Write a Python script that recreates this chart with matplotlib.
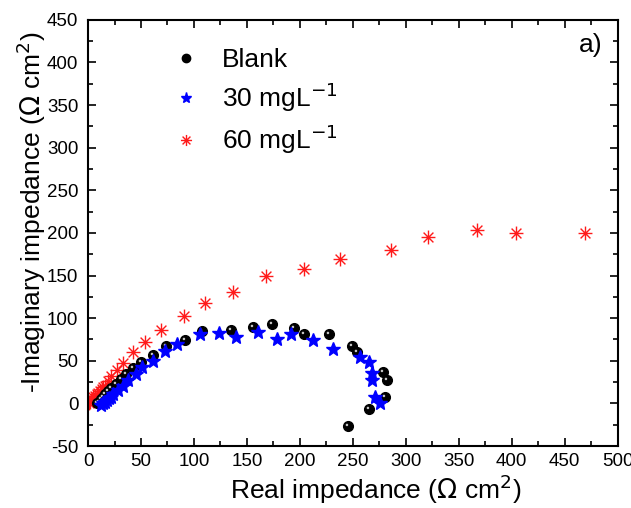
import numpy as np
import matplotlib
matplotlib.use('Agg')
import matplotlib.pyplot as plt
from matplotlib.path import Path
from matplotlib.ticker import MultipleLocator

plt.rcParams['font.family'] = ['Liberation Sans', 'DejaVu Sans']
plt.rcParams['axes.unicode_minus'] = False

# Nyquist data (Z' , -Z'') in ohm cm2
blank_re = [8, 10, 12, 14, 16, 19, 22, 26, 31, 36, 42, 50, 61, 74, 92, 108,
            135, 156, 174, 194, 204, 227, 249, 254, 278, 282, 280, 265, 245]
blank_im = [0, 2, 5, 8, 11, 14, 18, 23, 29, 34, 42, 49, 57, 67, 74, 85,
            86, 90, 93, 88, 82, 81, 67, 60, 37, 27, 8, -6, -27]

c30_re = [12, 14, 16, 18, 20, 22, 24, 28, 33, 38, 45, 51, 61, 73, 84, 106,
          124, 140, 160, 178, 192, 212, 231, 257, 265, 268, 268, 271, 276]
c30_im = [-2, 0, 2, 4, 6, 8, 11, 16, 21, 28, 35, 43, 50, 61, 70, 81,
          83, 78, 84, 75, 82, 74, 64, 55, 48, 36, 27, 8, 0]

c60_re = [1, 2, 3.5, 5, 6.6, 8, 9.7, 11, 12.9, 14.5, 16, 19, 22, 27, 33, 42,
          54, 69, 91, 110, 137, 168, 204, 238, 286, 321, 367, 404, 469]
c60_im = [0, 2, 5, 7, 9, 11, 12.5, 14, 16.4, 19, 21, 26, 32, 39, 47, 60,
          72, 86, 102, 118, 131, 149, 158, 169, 180, 195, 203, 200, 200]

labels = ['Blank', '30 mgL$^{-1}$', '60 mgL$^{-1}$']

# asterisk marker: four strokes through the centre
ang = np.deg2rad([0, 45, 90, 135])
verts, codes = [], []
for a in ang:
    verts += [(np.cos(a), np.sin(a)), (-np.cos(a), -np.sin(a))]
    codes += [Path.MOVETO, Path.LINETO]
asterisk = Path(verts, codes)

# highlight spot for the "sphere" look (extra moveto points fix the scale)
spot = Path.circle((-0.32, 0.32), 0.26)
spot = Path(np.vstack([spot.vertices, [[-1, -1], [1, 1]]]),
            np.concatenate([spot.codes, [Path.MOVETO, Path.MOVETO]]))

fig = plt.figure(figsize=(6.31, 5.08), dpi=100)
ax = fig.add_axes([0.1395, 0.122, 0.8395, 0.839])

ax.plot(c60_re, c60_im, ls='none', marker=asterisk, ms=10, mec='#ff1a1a',
        mfc='none', mew=1.0, zorder=2)
ax.plot(blank_re, blank_im, ls='none', marker='o', ms=7, mfc='black',
        mec='black', zorder=3)
ax.plot(blank_re, blank_im, ls='none', marker=spot, ms=7, mfc='#c8c8c8',
        mec='none', zorder=4)
ax.plot(c30_re, c30_im, ls='none', marker='*', ms=10.5, mfc='#0000ff',
        mec='#0000ff', zorder=5)

# legend handles
h1, = ax.plot([], [], ls='none', marker='o', ms=6, mfc='black', mec='black')
h2, = ax.plot([], [], ls='none', marker='*', ms=8, mfc='#0000ff', mec='#0000ff')
h3, = ax.plot([], [], ls='none', marker=asterisk, ms=8, mec='#ff1a1a',
              mfc='none', mew=1.0)
ax.legend([h1, h2, h3], labels, loc='upper left', bbox_to_anchor=(0.11, 0.99),
          frameon=False, fontsize=19, handletextpad=0.75, labelspacing=0.33,
          handlelength=1.2)

ax.text(0.972, 0.941, 'a)', transform=ax.transAxes, fontsize=19,
        ha='right', va='center')

ax.set_xlim(0, 500)
ax.set_ylim(-50, 450)
ax.xaxis.set_major_locator(MultipleLocator(50))
ax.xaxis.set_minor_locator(MultipleLocator(25))
ax.yaxis.set_major_locator(MultipleLocator(50))
ax.yaxis.set_minor_locator(MultipleLocator(25))
ax.tick_params(which='both', direction='in', top=True, right=True,
               labelsize=13.5, width=1.2)
ax.tick_params(which='major', length=6)
ax.tick_params(which='minor', length=3.5)
ax.tick_params(axis='x', which='major', pad=5)
ax.tick_params(axis='y', which='major', pad=7)
for s in ax.spines.values():
    s.set_linewidth(1.5)

ax.set_xlabel('Real impedance ($\\Omega$ cm$^2$)', fontsize=19)
ax.set_ylabel('-Imaginary impedance ($\\Omega$ cm$^2$)', fontsize=19)
ax.xaxis.set_label_coords(0.543, -0.062)
ax.yaxis.set_label_coords(-0.076, 0.549)

fig.savefig('out.png', dpi=100)
